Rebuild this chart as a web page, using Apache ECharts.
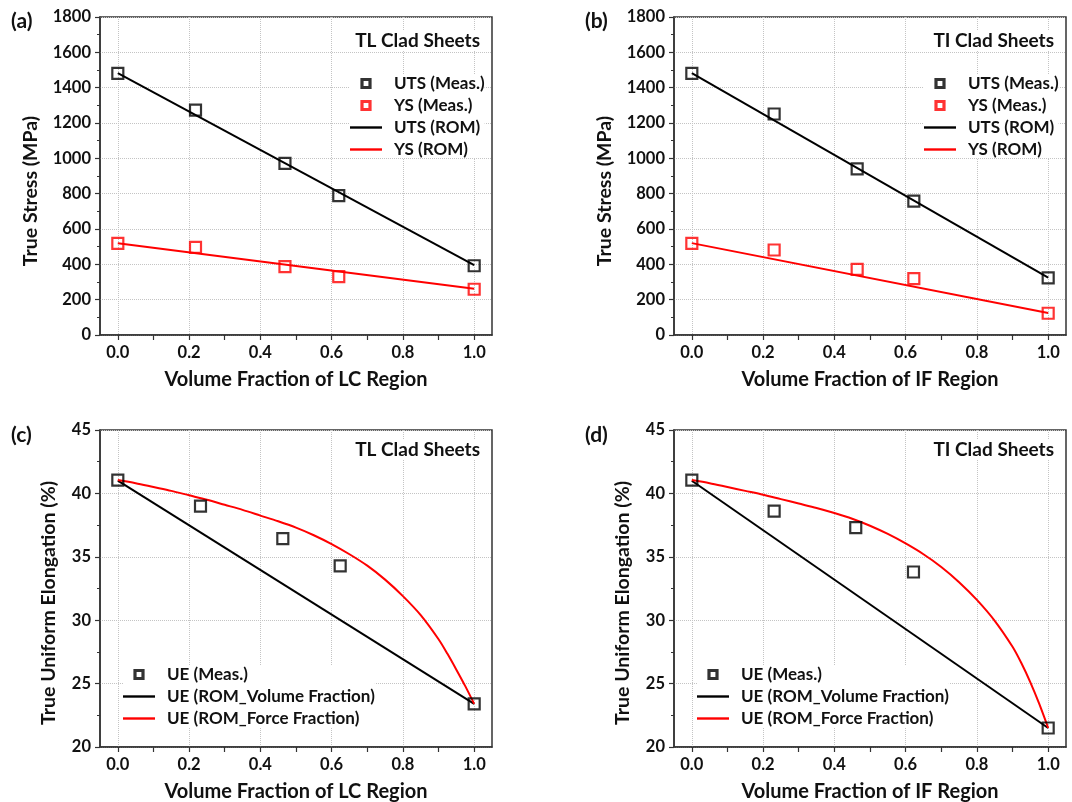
<!DOCTYPE html>
<html>
<head>
<meta charset="utf-8">
<script src="https://cdn.jsdelivr.net/npm/echarts@6/dist/echarts.min.js"></script>
<style>
html,body{margin:0;padding:0;background:#fff;}
#chart{width:1072px;height:802px;}
</style>
</head>
<body>
<div id="chart"></div>
<script>
// ---------- data ----------
const xTickMajor = [0, 0.2, 0.4, 0.6, 0.8, 1.0];
const xTickMinor = [0.1, 0.3, 0.5, 0.7, 0.9];

// (a) TL clad sheets, stress vs LC fraction
const xMeasA = [0, 0.218, 0.469, 0.62, 1.0];
const utsMeasA = [1481, 1273, 972, 789, 392];
const ysMeasA = [519, 496, 387, 330, 259];
const xRomA = [0, 1];
const utsRomA = [1482, 395];
const ysRomA = [520, 262];

// (b) TI clad sheets, stress vs IF fraction
const xMeasB = [0, 0.231, 0.464, 0.623, 1.0];
const utsMeasB = [1481, 1251, 940, 758, 323];
const ysMeasB = [519, 481, 372, 319, 123];
const xRomB = [0, 1];
const utsRomB = [1482, 325];
const ysRomB = [520, 125];

// (c) TL clad sheets, uniform elongation
const xMeasC = [0, 0.232, 0.463, 0.624, 1.0];
const ueMeasC = [41.05, 39.0, 36.43, 34.28, 23.4];
const xVolC = [0, 1];
const ueVolC = [41.0, 23.4];
const xForceC = [0, 0.05, 0.1, 0.15, 0.2, 0.25, 0.3, 0.35, 0.4, 0.45, 0.5, 0.55, 0.6, 0.65, 0.7, 0.75, 0.8, 0.85, 0.9, 0.925, 0.95, 0.975, 1.0];
const ueForceC = [41.05, 40.8, 40.5, 40.2, 39.85, 39.5, 39.1, 38.7, 38.25, 37.8, 37.3, 36.7, 36.0, 35.2, 34.3, 33.2, 31.9, 30.4, 28.5, 27.35, 26.1, 24.8, 23.4];

// (d) TI clad sheets, uniform elongation
const xMeasD = [0, 0.231, 0.46, 0.622, 1.0];
const ueMeasD = [41.05, 38.6, 37.3, 33.8, 21.5];
const xVolD = [0, 1];
const ueVolD = [41.0, 21.5];
const xForceD = [0, 0.05, 0.1, 0.15, 0.2, 0.25, 0.3, 0.35, 0.4, 0.45, 0.5, 0.55, 0.6, 0.65, 0.7, 0.75, 0.8, 0.85, 0.9, 0.925, 0.95, 0.975, 1.0];
const ueForceD = [41.05, 40.8, 40.5, 40.2, 39.9, 39.55, 39.2, 38.85, 38.45, 38.0, 37.45, 36.8, 36.05, 35.2, 34.2, 33.0, 31.6, 29.95, 27.9, 26.6, 25.1, 23.4, 21.5];

const yNames = ['True Stress (MPa)', 'True Stress (MPa)', 'True Uniform Elongation (%)', 'True Uniform Elongation (%)'];
const xNames = ['Volume Fraction of LC Region', 'Volume Fraction of IF Region', 'Volume Fraction of LC Region', 'Volume Fraction of IF Region'];

// ---------- helpers ----------
const zip = (xs, ys) => xs.map((x, i) => [x, ys[i]]);
const FONT = 'Lato';
const INK = '#111';
const AX = '#333';
const RED = '#ff0000';
const SQ = 'path://M0,0L10,0L10,10L0,10Z';
const BAR = 'path://M0,0L32,0L32,2.4L0,2.4Z';

const grids = [
  {left: 100, top: 17, width: 392, height: 318},
  {left: 674, top: 17, width: 392, height: 318},
  {left: 100, top: 430, width: 392, height: 317},
  {left: 674, top: 430, width: 392, height: 317}
].map(g => Object.assign(g, {show: true, borderColor: AX, borderWidth: 1.5, backgroundColor: 'transparent', containLabel: false, outerBoundsMode: 'none'}));

const xAxes = [];
for (let i = 0; i < 4; i++) {
  xAxes.push({
    type: 'value', gridIndex: i, min: -0.05, max: 1.05, position: 'bottom',
    name: xNames[i], nameLocation: 'middle', nameGap: 35,
    nameTextStyle: {fontFamily: FONT, fontWeight: 'bold', fontSize: 20, color: INK},
    axisLine: {show: true, onZero: false, lineStyle: {color: AX, width: 1.5}},
    axisTick: {show: true, customValues: xTickMajor, length: 5, lineStyle: {color: AX, width: 1.2}},
    axisLabel: {show: true, customValues: xTickMajor, margin: 9, formatter: v => Number(v).toFixed(1),
      fontFamily: FONT, fontWeight: 'bold', fontSize: 16.5, color: INK},
    splitLine: {show: true, lineStyle: {color: '#c4c4c4', type: 'dotted', width: 1}},
    minorTick: {show: false}
  });
}
for (let i = 0; i < 4; i++) {
  xAxes.push({
    type: 'value', gridIndex: i, min: -0.05, max: 1.05, position: 'bottom',
    axisLine: {show: false, onZero: false},
    axisTick: {show: true, customValues: xTickMinor, length: 5, lineStyle: {color: AX, width: 1.2}},
    axisLabel: {show: false},
    splitLine: {show: false}
  });
}

function yAxis(i, min, max, interval) {
  return {
    type: 'value', gridIndex: i, min: min, max: max, interval: interval,
    axisLine: {show: true, onZero: false, lineStyle: {color: AX, width: 1.5}},
    axisTick: {show: true, length: 5, lineStyle: {color: AX, width: 1.2}},
    minorTick: {show: true, splitNumber: 2, length: 3, lineStyle: {color: AX, width: 1}},
    axisLabel: {margin: 9, showMinLabel: true, showMaxLabel: true, formatter: v => String(v),
      fontFamily: FONT, fontWeight: 'bold', fontSize: 16.5, color: INK},
    splitLine: {show: true, lineStyle: {color: '#c4c4c4', type: 'dotted', width: 1}}
  };
}
const yAxes = [
  yAxis(0, 0, 1800, 200),
  yAxis(1, 0, 1800, 200),
  yAxis(2, 20, 45, 5),
  yAxis(3, 20, 45, 5)
];

// y-axis titles (rotated text), centred slightly below the plot middle as in the source figure
const yNamePos = [[31, 191], [605, 191], [49, 603], [623, 603]];
const graphics = yNames.map((t, i) => ({
  type: 'text', x: yNamePos[i][0], y: yNamePos[i][1], rotation: Math.PI / 2,
  style: {text: t, fontFamily: FONT, fontWeight: 'bold', fontSize: 19.5, fill: INK, align: 'center', verticalAlign: 'middle'}
}));

function scatter(name, idx, data, color) {
  return {type: 'scatter', name: name, xAxisIndex: idx, yAxisIndex: idx, data: data, z: 5,
    symbol: 'rect', symbolSize: 11,
    itemStyle: {color: 'rgba(0,0,0,0)', borderColor: color, borderWidth: 2.2},
    emphasis: {disabled: true}};
}
function line(name, idx, data, color, smooth) {
  return {type: 'line', name: name, xAxisIndex: idx, yAxisIndex: idx, data: data, z: 3,
    symbol: 'none', showSymbol: false, smooth: smooth ? 0.3 : false,
    itemStyle: {color: color},
    lineStyle: {color: color, width: 2}, emphasis: {disabled: true}};
}

const series = [
  line('UTS (ROM)', 0, zip(xRomA, utsRomA), '#000'),
  line('YS (ROM)', 0, zip(xRomA, ysRomA), RED),
  scatter('UTS (Meas.)', 0, zip(xMeasA, utsMeasA), '#000'),
  scatter('YS (Meas.)', 0, zip(xMeasA, ysMeasA), RED),

  line('UTS (ROM)', 1, zip(xRomB, utsRomB), '#000'),
  line('YS (ROM)', 1, zip(xRomB, ysRomB), RED),
  scatter('UTS (Meas.)', 1, zip(xMeasB, utsMeasB), '#000'),
  scatter('YS (Meas.)', 1, zip(xMeasB, ysMeasB), RED),

  line('UE (ROM_Volume Fraction)', 2, zip(xVolC, ueVolC), '#000'),
  line('UE (ROM_Force Fraction)', 2, zip(xForceC, ueForceC), RED, true),
  scatter('UE (Meas.)', 2, zip(xMeasC, ueMeasC), '#000'),

  line('UE (ROM_Volume Fraction)', 3, zip(xVolD, ueVolD), '#000'),
  line('UE (ROM_Force Fraction)', 3, zip(xForceD, ueForceD), RED, true),
  scatter('UE (Meas.)', 3, zip(xMeasD, ueMeasD), '#000')
];

function legend(left, top, entries) {
  return {
    left: left, top: top, orient: 'vertical', padding: 0, itemGap: 5,
    itemWidth: 32, itemHeight: 8, backgroundColor: '#fff', selectedMode: false,
    formatter: n => '{g| }' + n,
    textStyle: {fontFamily: FONT, fontWeight: 'bold', fontSize: 17, color: INK, lineHeight: 16.5,
      rich: {g: {width: 7}}},
    data: entries.map(e => e.meas
      ? {name: e.name, icon: SQ, itemStyle: {borderWidth: 3.2}}
      : {name: e.name, icon: BAR})
  };
}
const stressEntries = [{name: 'UTS (Meas.)', meas: true}, {name: 'YS (Meas.)', meas: true}, {name: 'UTS (ROM)'}, {name: 'YS (ROM)'}];
const ueEntries = [{name: 'UE (Meas.)', meas: true}, {name: 'UE (ROM_Volume Fraction)'}, {name: 'UE (ROM_Force Fraction)'}];

const legends = [
  legend(350, 75, stressEntries),
  legend(924, 75, stressEntries),
  legend(123, 666, ueEntries),
  legend(697, 666, ueEntries)
];

const tStyle = {fontFamily: FONT, fontWeight: 'bold', fontSize: 21, color: INK};
const cStyle = {fontFamily: FONT, fontWeight: 'bold', fontSize: 19, color: INK};
const titles = [
  {text: '(a)', left: 11, top: 11, padding: 0, textStyle: tStyle},
  {text: '(b)', left: 585, top: 11, padding: 0, textStyle: tStyle},
  {text: '(c)', left: 11, top: 425, padding: 0, textStyle: tStyle},
  {text: '(d)', left: 585, top: 425, padding: 0, textStyle: tStyle},
  {text: 'TL Clad Sheets', right: 592, top: 31, padding: 0, backgroundColor: '#fff', textStyle: cStyle},
  {text: 'TI Clad Sheets', right: 18, top: 31, padding: 0, backgroundColor: '#fff', textStyle: cStyle},
  {text: 'TL Clad Sheets', right: 592, top: 440, padding: 0, backgroundColor: '#fff', textStyle: cStyle},
  {text: 'TI Clad Sheets', right: 18, top: 440, padding: 0, backgroundColor: '#fff', textStyle: cStyle}
];

const chart = echarts.init(document.getElementById('chart'), null, {renderer: 'canvas'});
chart.setOption({
  animation: false,
  backgroundColor: '#fff',
  title: titles,
  legend: legends,
  grid: grids,
  xAxis: xAxes,
  yAxis: yAxes,
  graphic: graphics,
  series: series
});
</script>
</body>
</html>
